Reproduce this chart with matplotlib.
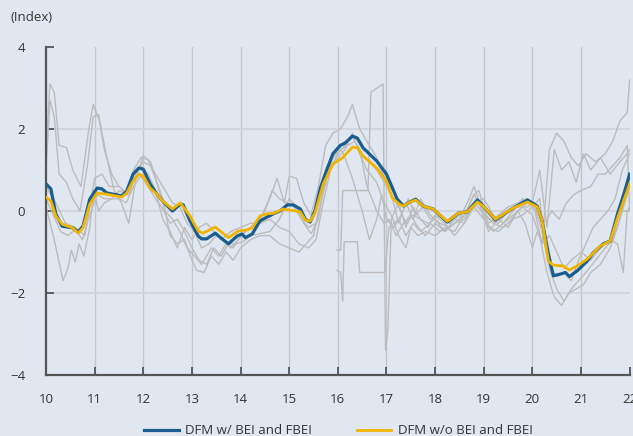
import matplotlib
matplotlib.use("Agg")
import matplotlib.pyplot as plt

# ---------------------------------------------------------------
# data (x = year, 10 -> 2010)
# ---------------------------------------------------------------
blue_t = [10.0, 10.1, 10.2, 10.33, 10.55, 10.66, 10.76, 10.9, 11.05, 11.15, 11.25, 11.56,
          11.66, 11.79, 11.91, 12.0, 12.14, 12.28, 12.4, 12.6, 12.76, 12.82, 12.96, 13.13,
          13.2, 13.3, 13.48, 13.62, 13.75, 13.93, 14.03, 14.1, 14.24, 14.4, 14.54, 14.67,
          14.81, 14.96, 15.08, 15.23, 15.33, 15.43, 15.53, 15.64, 15.77, 15.9, 16.05, 16.15,
          16.3, 16.4, 16.52, 16.8, 17.0, 17.12, 17.22, 17.35, 17.45, 17.6, 17.75, 17.96,
          18.25, 18.48, 18.66, 18.87, 18.99, 19.24, 19.6, 19.9, 20.1, 20.2, 20.33, 20.43,
          20.57, 20.68, 20.76, 20.92, 21.13, 21.25, 21.46, 21.6, 21.75, 21.88, 22.0]
blue_v = [0.66, 0.54, -0.07, -0.37, -0.41, -0.51, -0.37, 0.29, 0.56, 0.54, 0.44, 0.37,
          0.49, 0.9, 1.05, 1.02, 0.66, 0.41, 0.24, 0.0, 0.17, 0.15, -0.24, -0.61,
          -0.68, -0.68, -0.54, -0.68, -0.8, -0.61, -0.56, -0.65, -0.56, -0.24, -0.15, -0.07,
          0.0, 0.15, 0.15, 0.05, -0.2, -0.27, 0.0, 0.56, 1.0, 1.4, 1.6, 1.66,
          1.83, 1.78, 1.54, 1.22, 0.9, 0.57, 0.29, 0.12, 0.2, 0.29, 0.12, 0.05,
          -0.27, -0.05, -0.02, 0.27, 0.12, -0.22, 0.07, 0.27, 0.12, -0.24, -1.05, -1.58,
          -1.54, -1.5, -1.6, -1.46, -1.22, -1.02, -0.8, -0.73, -0.07, 0.41, 0.9]

orange_t = [10.0, 10.1, 10.2, 10.33, 10.55, 10.66, 10.76, 10.9, 11.05, 11.25, 11.56, 11.66,
            11.79, 11.91, 12.0, 12.14, 12.28, 12.4, 12.6, 12.76, 12.96, 13.13, 13.23, 13.48,
            13.75, 13.95, 14.13, 14.24, 14.4, 14.54, 14.7, 14.87, 15.02, 15.23, 15.33, 15.43,
            15.53, 15.7, 15.9, 16.1, 16.3, 16.4, 16.52, 16.8, 17.0, 17.12, 17.26, 17.35,
            17.45, 17.6, 17.75, 17.96, 18.25, 18.48, 18.66, 18.87, 18.99, 19.24, 19.6, 19.9,
            20.1, 20.2, 20.33, 20.43, 20.63, 20.76, 20.92, 21.13, 21.4, 21.6, 21.75, 22.0]
orange_v = [0.34, 0.24, -0.12, -0.32, -0.41, -0.54, -0.41, 0.17, 0.44, 0.41, 0.34, 0.44,
            0.73, 0.9, 0.85, 0.56, 0.41, 0.24, 0.05, 0.2, -0.12, -0.49, -0.54, -0.39,
            -0.65, -0.49, -0.46, -0.41, -0.12, -0.07, -0.05, 0.05, 0.02, -0.02, -0.22, -0.25,
            -0.05, 0.66, 1.15, 1.3, 1.56, 1.54, 1.34, 1.05, 0.73, 0.32, 0.17, 0.12,
            0.2, 0.27, 0.12, 0.05, -0.25, -0.05, -0.02, 0.22, 0.12, -0.2, 0.07, 0.22,
            0.1, -0.24, -1.22, -1.32, -1.34, -1.44, -1.34, -1.17, -0.85, -0.73, -0.17, 0.66]

# individual indicators (grey)
g1_t = [10.0, 10.08, 10.17, 10.27, 10.42, 10.55, 10.72, 10.88, 10.97, 11.1, 11.25, 11.4,
        11.55, 11.7, 11.85, 12.0, 12.15, 12.3, 12.45, 12.6, 12.75, 12.9, 13.05, 13.2,
        13.4, 13.55, 13.7, 13.85, 14.0, 14.2, 14.4, 14.6, 14.75, 14.9, 15.0, 15.15,
        15.3, 15.45, 15.6, 15.75, 15.9, 16.05, 16.2, 16.3, 16.45, 16.6, 16.8, 16.95,
        17.1, 17.25, 17.4, 17.55, 17.7, 17.9, 18.1, 18.3, 18.5, 18.7, 18.8, 18.95,
        19.1, 19.3, 19.5, 19.7, 19.9, 20.05, 20.2, 20.35, 20.5, 20.65, 20.8, 20.95,
        21.1, 21.3, 21.5, 21.65, 21.8, 21.95, 22.0]
g1_v = [1.5, 3.1, 2.9, 1.6, 1.55, 1.0, 0.6, 2.0, 2.6, 2.2, 1.3, 0.5,
        0.2, -0.3, 0.8, 1.35, 1.2, 0.6, 0.0, -0.2, -0.5, -0.9, -1.1, -1.3,
        -0.9, -1.1, -0.8, -0.9, -0.6, -0.4, -0.2, 0.3, 0.8, 0.2, 0.85, 0.8,
        0.2, -0.1, 0.6, 1.6, 1.9, 2.0, 2.3, 2.6, 2.0, 1.7, 1.3, 0.8,
        0.4, -0.3, 0.2, -0.2, 0.3, -0.1, -0.3, -0.4, -0.2, 0.3, 0.6, 0.1,
        -0.3, -0.1, 0.1, 0.2, 0.3, 0.0, -0.8, 1.5, 1.9, 1.7, 1.3, 1.1,
        1.4, 1.2, 1.4, 1.7, 2.2, 2.4, 3.2]

g2_t = [10.0, 10.08, 10.17, 10.27, 10.42, 10.55, 10.7, 10.85, 10.97, 11.08, 11.2, 11.35,
        11.5, 11.65, 11.8, 11.95, 12.1, 12.25, 12.4, 12.55, 12.7, 12.85, 13.0, 13.1,
        13.25, 13.4, 13.55, 13.7, 13.85, 14.0, 14.2, 14.4, 14.6, 14.8, 15.0, 15.2,
        15.35, 15.5, 15.65, 15.8, 16.0, 16.15, 16.3, 16.45, 16.6, 16.8, 16.95, 17.05,
        17.2, 17.35, 17.5, 17.65, 17.8, 18.0, 18.2, 18.4, 18.6, 18.8, 19.0, 19.2,
        19.4, 19.6, 19.8, 20.0, 20.15, 20.3, 20.45, 20.6, 20.75, 20.9, 21.05, 21.2,
        21.4, 21.6, 21.75, 21.9, 22.0]
g2_v = [1.0, 2.7, 2.3, 0.9, 0.7, 0.3, 0.0, 1.1, 2.3, 2.35, 1.5, 0.9,
        0.6, 0.4, 1.0, 1.3, 1.25, 0.8, 0.3, -0.6, -0.8, -0.7, -1.2, -1.45,
        -1.5, -1.1, -1.3, -1.0, -1.2, -0.9, -0.7, -0.6, -0.6, -0.8, -0.9, -1.0,
        -0.8, -0.6, 0.2, 0.9, 1.4, 1.6, 1.8, 1.5, 0.6, 0.0, -0.3, -0.2,
        -0.6, -0.3, -0.1, -0.4, -0.6, -0.3, -0.5, -0.2, -0.3, 0.1, -0.2, -0.5,
        -0.3, -0.1, 0.1, -0.1, -0.6, -1.5, -2.1, -2.3, -2.0, -1.9, -1.8, -1.5,
        -1.3, -0.9, -0.4, 0.3, 0.8]

g3_t = [10.0, 10.15, 10.35, 10.45, 10.52, 10.6, 10.68, 10.78, 10.9, 10.98, 11.08, 11.2,
        11.35, 11.5, 11.65, 11.8, 11.95, 12.1, 12.25, 12.4, 12.55, 12.7, 12.85, 13.0,
        13.15, 13.3, 13.45, 13.6, 13.8, 14.0, 14.2, 14.4, 14.6, 14.8, 15.0, 15.2,
        15.4, 15.55, 15.7, 15.85, 16.0, 16.15, 16.3, 16.45, 16.6, 16.8, 16.95, 17.1,
        17.25, 17.4, 17.5, 17.65, 17.8, 18.0, 18.2, 18.4, 18.6, 18.8, 18.9, 19.05,
        19.2, 19.4, 19.6, 19.8, 20.0, 20.15, 20.25, 20.35, 20.5, 20.65, 20.8, 20.95,
        21.1, 21.25, 21.4, 21.55, 21.7, 21.85, 22.0]
g3_v = [0.1, -0.6, -1.7, -1.4, -0.95, -1.25, -0.8, -1.1, -0.4, 0.5, 0.0, 0.2,
        0.3, 0.5, 0.4, 0.9, 1.1, 0.9, 0.5, -0.2, -0.5, -0.9, -0.4, -0.7,
        -0.4, -0.3, -0.5, -0.7, -0.5, -0.4, -0.3, -0.3, -0.2, -0.4, -0.5, -0.8,
        -0.9, -0.7, 0.2, 1.0, 1.3, 1.5, 1.9, 1.4, 1.0, 0.7, 0.2, -0.1,
        -0.6, -0.9, -0.4, -0.6, -0.5, -0.6, -0.4, -0.5, -0.1, 0.4, 0.5, -0.1,
        -0.3, -0.4, -0.2, -0.1, 0.1, 0.3, -0.7, -1.3, -1.6, -1.5, -1.7, -1.2,
        -0.8, -0.4, -0.2, 0.0, 0.3, 1.0, 1.4]

g4_t = [10.0, 10.15, 10.3, 10.45, 10.6, 10.75, 10.9, 11.05, 11.2, 11.35, 11.5, 11.65,
        11.8, 11.95, 12.1, 12.25, 12.4, 12.55, 12.7, 12.85, 13.0, 13.15, 13.3, 13.45,
        13.6, 13.75, 13.9, 14.05, 14.2, 14.4, 14.6, 14.8, 15.0, 15.15, 15.3, 15.45,
        15.6, 15.75, 15.9, 16.05, 16.2, 16.35, 16.5, 16.65, 16.8, 16.95, 17.1, 17.25,
        17.4, 17.55, 17.7, 17.85, 18.0, 18.2, 18.4, 18.6, 18.8, 18.95, 19.1, 19.3,
        19.5, 19.7, 19.9, 20.05, 20.2, 20.35, 20.5, 20.65, 20.8, 20.95, 21.1, 21.3,
        21.5, 21.65, 21.8, 21.95, 22.0]
g4_v = [0.3, -0.1, -0.5, -0.6, -0.45, -0.7, -0.1, 0.4, 0.3, 0.3, 0.3, 0.2,
        0.6, 0.85, 0.6, 0.3, 0.05, -0.3, -0.2, -0.5, -0.9, -1.2, -1.3, -0.9,
        -1.1, -0.8, -0.8, -0.75, -0.6, -0.55, -0.5, -0.2, 0.3, 0.1, -0.3, -0.55,
        -0.2, 0.8, 1.3, 1.5, 1.6, 1.7, 1.4, 1.2, 1.0, 0.7, 0.4, 0.1,
        -0.3, -0.1, -0.2, -0.3, -0.2, -0.5, -0.3, -0.2, 0.2, 0.0, -0.4, -0.5,
        -0.3, 0.0, 0.2, 0.1, -0.5, -1.4, -1.9, -2.2, -1.9, -1.7, -1.5, -1.2,
        -0.9, -0.7, -0.2, 0.4, 0.6]

g5_t = [15.98, 16.06, 16.1, 16.13, 16.4, 16.45, 16.97, 17.05, 17.25, 17.4, 17.55, 17.7,
        17.9, 18.1, 18.3, 18.5, 18.7, 18.9, 19.1, 19.3, 19.5, 19.7, 19.85, 20.0,
        20.1, 20.2, 20.35, 20.5, 20.65, 20.8, 21.0, 21.2, 21.4, 21.6, 21.75, 21.87,
        21.95, 22.0]
g5_v = [-1.45, -1.5, -2.2, -0.75, -0.75, -1.5, -1.5, -0.4, -0.2, -0.6, -0.3, -0.5,
        -0.3, -0.5, -0.4, -0.2, 0.0, 0.2, -0.5, -0.2, -0.4, 0.0, -0.3, -0.9,
        -0.5, -0.8, -0.6, -1.0, -1.4, -1.2, -1.0, -1.2, -0.9, -0.7, -0.8, -1.5,
        0.0, 0.1]

g6_t = [15.98, 16.06, 16.1, 16.62, 16.68, 16.93, 16.98, 17.03, 17.1, 17.25, 17.4, 17.55,
        17.7, 17.85, 18.0, 18.2, 18.4, 18.6, 18.8, 19.0, 19.2, 19.4, 19.6, 19.8,
        20.0, 20.15, 20.3, 20.45, 20.6, 20.75, 20.9, 21.05, 21.2, 21.4, 21.6, 21.8,
        21.95, 22.0]
g6_v = [-0.95, -0.95, 0.5, 0.5, 2.9, 3.1, -3.4, -2.9, -0.2, 0.2, -0.4, 0.1,
        -0.2, -0.4, -0.1, -0.3, -0.6, -0.3, 0.2, 0.3, -0.1, -0.3, 0.0, 0.3,
        0.2, 1.0, -0.4, 1.5, 1.0, 1.2, 0.7, 1.4, 1.0, 1.3, 0.9, 1.2,
        1.4, 1.5]

g7_t = [10.0, 10.2, 10.4, 10.6, 10.8, 11.0, 11.15, 11.3, 11.5, 11.7, 11.85, 12.0,
        12.15, 12.3, 12.45, 12.6, 12.75, 12.9, 13.05, 13.2, 13.35, 13.5, 13.65, 13.8,
        13.95, 14.1, 14.3, 14.5, 14.65, 14.8, 14.95, 15.1, 15.25, 15.4, 15.55, 15.7,
        15.85, 16.0, 16.1, 16.3, 16.5, 16.65, 16.8, 16.9, 17.0, 17.15, 17.3, 17.45,
        17.6, 17.75, 17.9, 18.1, 18.3, 18.5, 18.65, 18.8, 18.95, 19.1, 19.3, 19.5,
        19.7, 19.9, 20.05, 20.2, 20.3, 20.4, 20.55, 20.7, 20.85, 21.0, 21.2, 21.35,
        21.5, 21.65, 21.8, 21.95, 22.0]
g7_v = [0.6, 0.2, -0.3, -0.4, -0.6, 0.8, 0.9, 0.6, 0.6, 0.4, 0.9, 1.2,
        1.1, 0.8, 0.5, 0.2, 0.1, -0.3, -0.5, -0.9, -0.8, -0.6, -0.7, -0.9,
        -0.7, -0.5, -0.35, 0.0, 0.5, 0.3, 0.2, 0.1, -0.2, -0.4, -0.3, 0.5,
        1.2, 1.5, 1.45, 0.8, 0.0, -0.7, -0.2, 0.4, -0.2, -0.4, -0.1, 0.3,
        -0.1, 0.1, -0.2, -0.1, -0.3, -0.1, 0.0, 0.4, 0.1, -0.2, -0.3, 0.0,
        0.1, 0.1, 0.2, -0.3, -0.2, 0.0, -0.2, 0.2, 0.4, 0.5, 0.6, 0.9,
        0.9, 1.1, 1.3, 1.6, 0.0]

grey_series = [(g1_t, g1_v), (g2_t, g2_v), (g3_t, g3_v), (g4_t, g4_v),
               (g5_t, g5_v), (g6_t, g6_v), (g7_t, g7_v)]

x_ticks = list(range(10, 23))
y_ticks = [-4, -2, 0, 2, 4]

BG = "#e1e7f1"
BLUE = "#1a5d8f"
GOLD = "#f0b400"
GREY = "#bcbcbc"

plt.rcParams["font.family"] = ["Open Sans", "DejaVu Sans"]

fig = plt.figure(figsize=(6.33, 4.36), dpi=100, facecolor=BG)
ax = fig.add_axes([0.0727, 0.14, 0.922, 0.752], facecolor=BG)

for t, v in grey_series:
    ax.plot(t, v, color=GREY, lw=1.0, zorder=2)

ax.plot(blue_t, blue_v, color=BLUE, lw=2.3, zorder=3, label="DFM w/ BEI and FBEI")
ax.plot(orange_t, orange_v, color=GOLD, lw=2.0, zorder=4, label="DFM w/o BEI and FBEI")

ax.set_xlim(10, 22)
ax.set_ylim(-4, 4)
ax.set_xticks(x_ticks)
ax.set_yticks(y_ticks)

# grid: vertical slightly darker than horizontal
for x in x_ticks[1:-1]:
    ax.axvline(x, color="#c3c6cc", lw=1.0, zorder=1)
for y in [-2, 0, 2]:
    ax.axhline(y, color="#d0d4dc", lw=1.2, zorder=1)

for s in ["top", "right"]:
    ax.spines[s].set_visible(False)
for s in ["left", "bottom"]:
    ax.spines[s].set_color("#555555")
    ax.spines[s].set_linewidth(1.6)

ax.tick_params(axis="both", direction="in", length=6, width=1.3, color="#555555",
               labelsize=9.5, labelcolor="#333333")
ax.tick_params(axis="y", pad=15)
ax.tick_params(axis="x", pad=13)

# small tick on the right at 0
sec = ax.secondary_yaxis("right")
sec.set_yticks([0])
sec.set_yticklabels([""])
sec.spines["right"].set_visible(False)
sec.tick_params(direction="in", length=5, width=1.2, color="#555555")

fig.text(0.016, 0.96, "(Index)", fontsize=9.5, color="#333333", va="center", ha="left")

fig.legend(loc="center", bbox_to_anchor=(0.535, 0.012), ncol=2, frameon=False,
           fontsize=9.5, handlelength=2.6, columnspacing=3.4, handletextpad=0.5,
           labelcolor="#333333")

fig.savefig("out.png", dpi=100, facecolor=BG)
